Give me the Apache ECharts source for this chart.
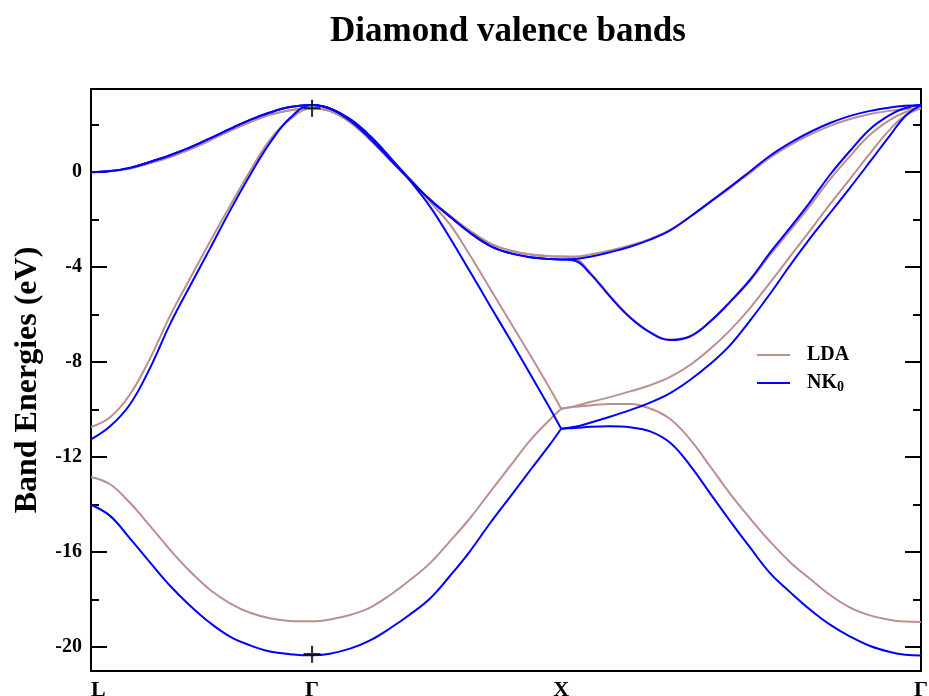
<!DOCTYPE html>
<html>
<head>
<meta charset="utf-8">
<title>Diamond valence bands</title>
<script src="https://cdn.jsdelivr.net/npm/echarts@6.0.0/dist/echarts.min.js"></script>
<style>
html, body { margin: 0; padding: 0; background: #fff; }
#chart { width: 929px; height: 696px; }
</style>
</head>
<body>
<div id="chart"></div>
<script>
// k along L - Gamma - X - Gamma
var kPath = [0, 0.077, 0.157, 0.238, 0.319, 0.400, 0.480, 0.561, 0.642, 0.722, 0.803, 0.892,
    0.964, 1.045, 1.126, 1.207, 1.287, 1.368, 1.449, 1.529, 1.610, 1.691, 1.772, 1.852, 1.897,
    1.953, 2.014, 2.094, 2.175, 2.256, 2.337, 2.417, 2.498, 2.579, 2.659, 2.740, 2.821, 2.902,
    2.982, 3.063, 3.144, 3.224, 3.285, 3.349];
var xIndex = 24; // position of X in kPath
var kTicks = [0, 0.892, 1.897, 3.349];
var kLabels = ['L', 'Γ', 'X', 'Γ'];
var eMajor = [-20, -16, -12, -8, -4, 0];
var eMinor = [-18, -14, -10, -6, -2, 2];

// LDA (eV)
var lda1 = [-12.83, -13.14, -13.92, -14.89, -15.90, -16.81, -17.58, -18.15, -18.55, -18.78, -18.89, -18.91,
    -18.83, -18.64, -18.33, -17.80, -17.17, -16.46, -15.53, -14.57, -13.47, -12.38, -11.29, -10.41, -9.96,
    -9.88, -9.82, -9.76, -9.76, -9.95, -10.39, -11.25, -12.38, -13.54, -14.57, -15.55, -16.42, -17.13,
    -17.80, -18.33, -18.66, -18.85, -18.92, -18.94];
var lda2 = [-10.73, -10.32, -9.36, -7.85, -6.05, -4.47, -2.93, -1.42, 0.05, 1.36, 2.22, 2.69,
    2.57, 2.15, 1.44, 0.60, -0.28, -1.25, -2.21, -3.50, -4.90, -6.30, -7.70, -9.12, -9.96,
    -9.85, -9.68, -9.47, -9.23, -8.97, -8.62, -8.12, -7.45, -6.65, -5.72, -4.65, -3.55, -2.45,
    -1.35, -0.28, 0.80, 1.80, 2.38, 2.69];
// bands 3,4 are degenerate from L to X
var ldaTopLX = [0, 0.04, 0.15, 0.38, 0.64, 0.96, 1.34, 1.74, 2.11, 2.41, 2.61, 2.69,
    2.58, 2.10, 1.36, 0.50, -0.34, -1.15, -1.84, -2.47, -3.00, -3.30, -3.47, -3.54, -3.55];
var lda3XG = [-3.62, -4.22, -5.20, -6.10, -6.73, -7.05, -6.90, -6.30, -5.48, -4.58, -3.48, -2.45, -1.40,
    -0.30, 0.68, 1.58, 2.20, 2.52, 2.69];
var lda4XG = [-3.55, -3.47, -3.30, -3.09, -2.81, -2.43, -1.88, -1.27, -0.66, -0.03, 0.61, 1.14, 1.58,
    1.95, 2.24, 2.45, 2.58, 2.65, 2.69];

// NK0 (eV)
var nk1 = [-14.00, -14.47, -15.42, -16.43, -17.41, -18.25, -18.97, -19.55, -19.92, -20.18, -20.29, -20.34,
    -20.27, -20.06, -19.71, -19.20, -18.62, -17.95, -16.99, -15.96, -14.78, -13.67, -12.55, -11.46, -10.80,
    -10.77, -10.72, -10.70, -10.74, -10.91, -11.39, -12.34, -13.52, -14.69, -15.80, -16.88, -17.68, -18.42,
    -19.05, -19.55, -19.95, -20.20, -20.32, -20.35];
var nk2 = [-11.25, -10.70, -9.78, -8.25, -6.40, -4.78, -3.22, -1.62, -0.12, 1.23, 2.28, 2.83,
    2.68, 2.24, 1.53, 0.62, -0.36, -1.45, -2.78, -4.18, -5.62, -7.05, -8.50, -9.95, -10.80,
    -10.72, -10.55, -10.30, -10.02, -9.70, -9.30, -8.75, -8.08, -7.28, -6.25, -5.12, -3.92, -2.78,
    -1.72, -0.65, 0.45, 1.55, 2.35, 2.83];
var nkTopLX = [0, 0.05, 0.18, 0.43, 0.71, 1.04, 1.42, 1.82, 2.20, 2.51, 2.74, 2.83,
    2.68, 2.18, 1.42, 0.54, -0.32, -1.16, -1.88, -2.55, -3.10, -3.41, -3.58, -3.66, -3.68];
var nk3XG = [-3.73, -4.27, -5.24, -6.12, -6.75, -7.07, -6.92, -6.29, -5.45, -4.53, -3.39, -2.34, -1.25,
    -0.11, 0.90, 1.82, 2.41, 2.70, 2.83];
var nk4XG = [-3.66, -3.56, -3.37, -3.14, -2.84, -2.45, -1.88, -1.25, -0.62, 0.03, 0.69, 1.23, 1.69,
    2.07, 2.37, 2.58, 2.72, 2.79, 2.83];

// the two crosses at Gamma
var gammaMarks = [[0.892, 2.69], [0.892, -20.29]];

var font = '"Liberation Serif", "Times New Roman", serif';
var myChart = echarts.init(document.getElementById('chart'));

function lineSeries(name, color, from, to, vals) {
    var pts = [];
    for (var i = from; i <= to; i++) pts.push([kPath[i], vals[i]]);
    return {
        name: name,
        type: 'line',
        data: pts,
        showSymbol: false,
        symbol: 'none',
        smooth: 0.4,
        lineStyle: { color: color, width: 2 },
        itemStyle: { color: color },
        emphasis: { disabled: true }
    };
}

var series = [];
// split each band at X, the bands have a kink there
function addBand(name, color, vals) {
    series.push(lineSeries(name, color, 0, xIndex, vals));
    series.push(lineSeries(name, color, xIndex, kPath.length - 1, vals));
}

function tickAxis(pos, values, len, withLabels) {
    return {
        type: 'value',
        position: pos,
        min: -21,
        max: 3.5,
        axisLine: { show: false },
        splitLine: { show: false },
        axisTick: { inside: true, length: len, customValues: values, lineStyle: { color: '#000', width: 2 } },
        axisLabel: withLabels ? {
            customValues: values, margin: 9, padding: [4, 0, 0, 0], color: '#000',
            fontFamily: font, fontWeight: 'bold', fontSize: 20
        } : { show: false }
    };
}

var LDA = '#bc8f8f', NK = '#0000ff';
addBand('LDA', LDA, lda1);
addBand('LDA', LDA, lda2);
addBand('LDA', LDA, ldaTopLX.concat(lda3XG));
addBand('LDA', LDA, ldaTopLX.concat(lda4XG));
addBand('NK0', NK, nk1);
addBand('NK0', NK, nk2);
addBand('NK0', NK, nkTopLX.concat(nk3XG));
addBand('NK0', NK, nkTopLX.concat(nk4XG));
series.push({
    name: 'marks',
    type: 'scatter',
    data: gammaMarks,
    symbol: 'path://M7,0h2v7h7v2h-7v7h-2v-7h-7v-2h7z',
    symbolSize: 17,
    itemStyle: { color: '#000' },
    z: 5
});

var option = {
    animation: false,
    backgroundColor: '#fff',
    grid: {
        left: 91, right: 8, top: 89, bottom: 25, outerBoundsMode: 'none',
        show: true, borderColor: '#000', borderWidth: 2
    },
    xAxis: {
        type: 'value',
        min: 0,
        max: 3.349,
        axisLine: { show: false },
        axisTick: { show: false },
        splitLine: { show: false },
        axisLabel: {
            customValues: kTicks,
            alignMinLabel: 'left',
            margin: 8,
            color: '#000', fontFamily: font, fontWeight: 'bold', fontSize: 22,
            formatter: function (v) {
                var best = 0;
                for (var i = 1; i < kTicks.length; i++) {
                    if (Math.abs(kTicks[i] - v) < Math.abs(kTicks[best] - v)) best = i;
                }
                return kLabels[best];
            }
        }
    },
    yAxis: [
        tickAxis('left', eMajor, 16, true),
        tickAxis('left', eMinor, 8, false),
        tickAxis('right', eMajor, 16, false),
        tickAxis('right', eMinor, 8, false)
    ],
    legend: {
        data: ['LDA', 'NK0'],
        orient: 'vertical',
        left: 757,
        top: 344,
        padding: 0,
        icon: 'path://M0,0h33v2h-33z',
        itemWidth: 33,
        itemHeight: 2,
        itemGap: 6,
        selectedMode: false,
        formatter: function (name) {
            return name === 'NK0' ? 'NK{sub|0}' : name;
        },
        textStyle: {
            color: '#000', fontFamily: font, fontWeight: 'bold', fontSize: 20, lineHeight: 22,
            padding: [0, 0, 0, 12],
            rich: {
                sub: { color: '#000', fontFamily: font, fontWeight: 'bold', fontSize: 14, lineHeight: 14, padding: [8, 0, 0, 0] }
            }
        }
    },
    graphic: [
        {
            type: 'text', x: 508, y: 32,
            style: { text: 'Diamond valence bands', fill: '#000', fontFamily: font, fontWeight: 'bold', fontSize: 35, align: 'center', verticalAlign: 'middle' }
        },
        {
            type: 'text', x: 28, y: 380, rotation: Math.PI / 2,
            style: { text: 'Band Energies (eV)', fill: '#000', fontFamily: font, fontWeight: 'bold', fontSize: 32, align: 'center', verticalAlign: 'middle' }
        }
    ],
    series: series
};

myChart.setOption(option, true);
</script>
</body>
</html>
